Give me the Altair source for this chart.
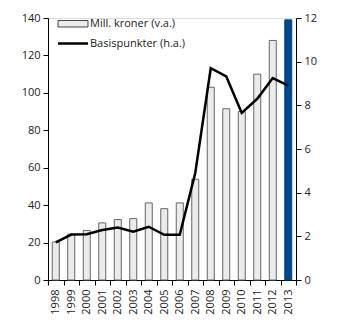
import altair as alt
import pandas as pd

years = [str(y) for y in range(1998, 2014)]
mill_kroner = [20.3, 24.5, 26.5, 30.5, 32.3, 32.8, 41.2, 38.1, 41.2, 53.8, 103, 91.5, 90, 110, 128, 139]
basispunkter = [1.72, 2.08, 2.1, 2.29, 2.4, 2.21, 2.44, 2.07, 2.07, 4.9, 9.7, 9.32, 7.65, 8.3, 9.25, 8.9]
highlight = ["no"] * 15 + ["yes"]
legend_labels = ["Mill. kroner (v.a.)", "Basispunkter (h.a.)"]

df = pd.DataFrame({"year": years, "mill": mill_kroner, "bp": basispunkter, "hl": highlight})
one = pd.DataFrame({"k": [0]})

FONT = "Open Sans"
TXT = "#222222"

xenc = alt.X("year:N", title=None, sort=years,
             scale=alt.Scale(paddingInner=0, paddingOuter=0),
             axis=alt.Axis(labelAngle=270, tickBand="extent", labelPadding=4,
                           tickSize=5, domainColor="black", tickColor="black",
                           labelColor=TXT, labelFontSize=11, labelFont=FONT))

bars = alt.Chart(df).mark_bar(size=7, strokeWidth=1).encode(
    x=xenc,
    y=alt.Y("mill:Q", title=None,
            scale=alt.Scale(domain=[0, 140]),
            axis=alt.Axis(orient="left", values=list(range(0, 141, 20)), grid=False,
                          tickSize=5, labelPadding=3, domainColor="black", tickColor="black",
                          labelColor=TXT, labelFontSize=11, labelFont=FONT)),
    fill=alt.Color("hl:N", scale=alt.Scale(domain=["no", "yes"], range=["#ebebeb", "#00468b"]), legend=None),
    stroke=alt.Color("hl:N", scale=alt.Scale(domain=["no", "yes"], range=["#666666", "#00468b"]), legend=None),
)

line = alt.Chart(df).mark_line(color="black", strokeWidth=2.5).encode(
    x=alt.X("year:N", sort=years),
    y=alt.Y("bp:Q", title=None,
            scale=alt.Scale(domain=[0, 12]),
            axis=alt.Axis(orient="right", values=list(range(0, 13, 2)), grid=False,
                          tickSize=5, labelPadding=3, domainColor="black", tickColor="black",
                          labelColor=TXT, labelFontSize=11, labelFont=FONT)),
)

leg_rect = alt.Chart(one).mark_rect(fill="#ebebeb", stroke="#444444", strokeWidth=1).encode(
    x=alt.value(10), x2=alt.value(40), y=alt.value(2.5), y2=alt.value(9)
)
leg_line = alt.Chart(one).mark_rule(color="black", strokeWidth=2.5).encode(
    x=alt.value(10), x2=alt.value(40), y=alt.value(25.5)
)
leg_t1 = alt.Chart(one).mark_text(align="left", baseline="middle", font=FONT, fontSize=11, color=TXT).encode(
    x=alt.value(42), y=alt.value(6), text=alt.value(legend_labels[0])
)
leg_t2 = alt.Chart(one).mark_text(align="left", baseline="middle", font=FONT, fontSize=11, color=TXT).encode(
    x=alt.value(42), y=alt.value(26), text=alt.value(legend_labels[1])
)

chart = alt.layer(bars, line, leg_rect, leg_line, leg_t1, leg_t2).resolve_scale(
    y="independent"
).properties(
    width=248, height=262,
    autosize=alt.AutoSizeParams(type="none"),
    padding={"left": 48, "top": 18, "right": 50, "bottom": 43},
).configure_view(stroke=None).configure(background="white")

chart.save("out.html", embed_options={"renderer": "svg", "actions": False})
